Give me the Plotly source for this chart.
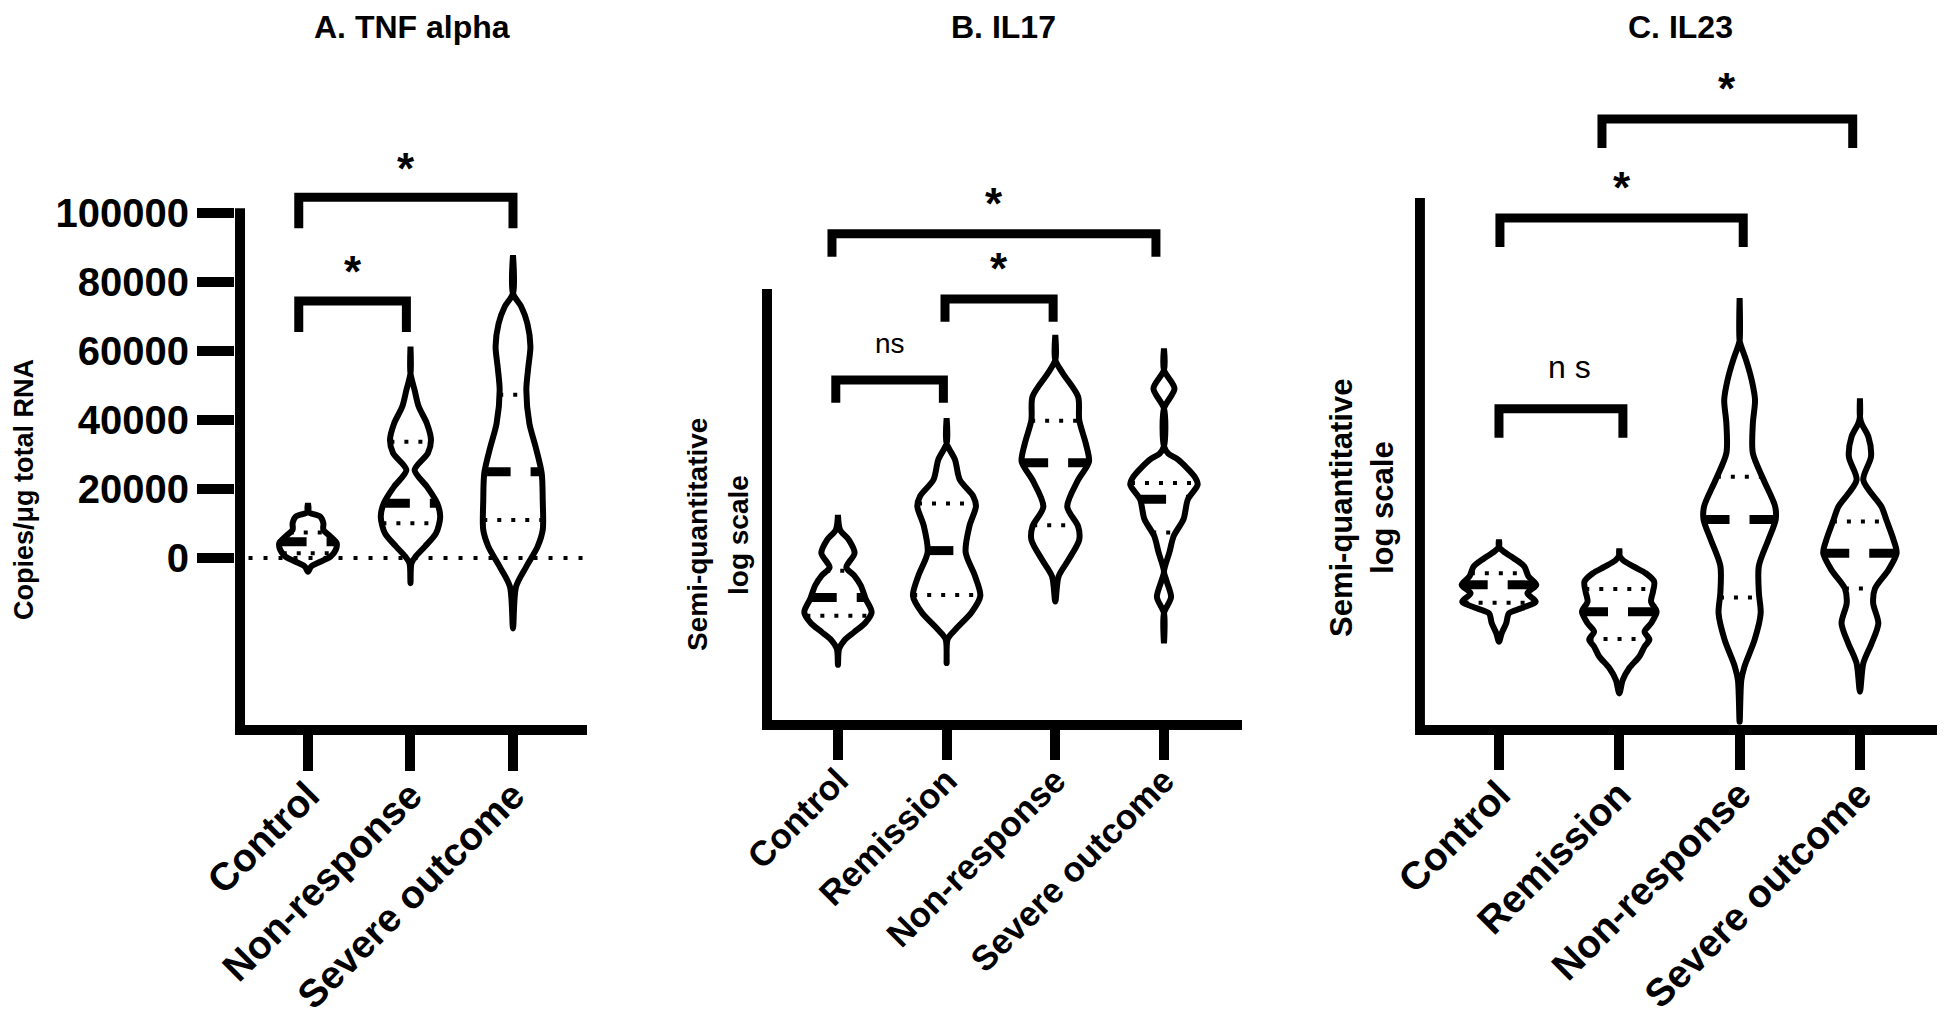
import numpy as np
import plotly.graph_objects as go

# page is 1945x1022; the html body adds an 8px margin, so the figure is drawn
# 8px smaller and every page position below is shifted by that offset
OFF = 8
W, H = 1945 - OFF, 1022 - OFF
FONT = "Liberation Sans, Arial, Helvetica, sans-serif"

# ---------------- Panel A: TNF alpha (copies/ug total RNA) ----------------
a_groups = ["Control", "Non-response", "Severe outcome"]
# violin outlines: value levels and half-widths (in category units)
a_ctrl_y = [-4000, -2500, -1100, 400, 2300, 4300, 6200, 8200, 10100, 12000, 13400, 15900]
a_ctrl_w = [0.0, 0.03, 0.12, 0.22, 0.27, 0.28, 0.22, 0.15, 0.15, 0.12, 0.0, 0.0]
a_nonr_y = [-7300, -1500, 400, 3300, 7200, 12000, 15900, 20700, 25500, 30400, 34200, 39000, 43900, 48700, 53500, 61300]
a_nonr_w = [0.0, 0.01, 0.05, 0.14, 0.25, 0.29, 0.26, 0.16, 0.04, 0.17, 0.20, 0.16, 0.08, 0.04, 0.0, 0.0]
a_sev_y = [-20400, -8300, -2500, 3300, 8100, 16800, 24600, 32300, 39000, 48700, 55500, 61300, 68000, 72900, 76700, 87800]
a_sev_w = [0.0, 0.03, 0.13, 0.24, 0.29, 0.29, 0.28, 0.22, 0.16, 0.13, 0.15, 0.17, 0.14, 0.08, 0.0, 0.0]
a_median = [4700, 15900, 25000]
a_q1 = [1400, 10100, 11000]
a_q3 = [7400, 33700, 47300]
a_tickvals = [0, 20000, 40000, 60000, 80000, 100000]
a_ticktext = ["0", "20000", "40000", "60000", "80000", "100000"]

# ---------------- Panel B: IL17 (semi-quantitative, log scale) ----------------
bc_groups = ["Control", "Remission", "Non-response", "Severe outcome"]
b_ctrl_y = [12.8, 16.5, 18.5, 20.4, 22.5, 25.0, 28.1, 31.2, 33.5, 35.4, 38.7, 41.8, 44.1, 47.6]
b_ctrl_w = [0.0, 0.01, 0.06, 0.15, 0.25, 0.31, 0.255, 0.21, 0.15, 0.077, 0.153, 0.10, 0.02, 0.0]
b_rem_y = [13.2, 18.8, 21.1, 25.0, 28.8, 33.5, 38.9, 45.0, 49.6, 51.9, 55.8, 60.4, 64.2, 70.0]
b_rem_w = [0.0, 0.01, 0.085, 0.23, 0.31, 0.26, 0.175, 0.21, 0.27, 0.245, 0.12, 0.077, 0.0, 0.0]
b_nonr_y = [27.5, 33.3, 37.1, 41.8, 44.9, 49.5, 55.7, 59.9, 64.2, 69.6, 75.0, 80.4, 83.5, 89.3]
b_nonr_w = [0.0, 0.03, 0.12, 0.22, 0.21, 0.11, 0.21, 0.31, 0.28, 0.22, 0.21, 0.07, 0.0, 0.0]
b_sev_y = [17.8, 24.8, 28.5, 32.5, 34.4, 38.9, 42.7, 46.6, 51.2, 54.6, 56.5, 60.4, 61.8, 63.5, 72.3, 76.9, 81.2, 86.2]
b_sev_w = [0.0, 0.0, 0.065, 0.02, 0.0, 0.05, 0.09, 0.18, 0.22, 0.31, 0.28, 0.13, 0.04, 0.0, 0.0, 0.097, 0.0, 0.0]
b_median = [28.4, 39.3, 59.7, 51.2]
b_q1 = [24.2, 29.0, 45.2, 43.5]
b_q3 = [34.6, 50.2, 69.4, 55.0]

# ---------------- Panel C: IL23 (semi-quantitative, log scale) ----------------
c_ctrl_y = [15.8, 17.4, 19.3, 21.2, 22.2, 23.4, 25.0, 26.6, 28.2, 30.1, 31.6, 32.9, 33.8, 35.2]
c_ctrl_w = [0.0, 0.022, 0.06, 0.083, 0.19, 0.305, 0.236, 0.31, 0.245, 0.21, 0.125, 0.04, 0.0, 0.0]
c_rem_y = [6.0, 8.5, 10.8, 13.0, 14.9, 16.2, 17.7, 19.3, 21.5, 23.4, 25.3, 27.2, 28.8, 30.0, 31.3, 32.3, 33.5]
c_rem_w = [0.0, 0.028, 0.083, 0.167, 0.21, 0.25, 0.21, 0.264, 0.31, 0.264, 0.28, 0.29, 0.22, 0.125, 0.03, 0.0, 0.0]
c_nonr_y = [0.6, 8.5, 11.1, 16.2, 21.2, 25.1, 30.2, 35.2, 39.0, 41.5, 46.5, 51.6, 57.2, 61.7, 65.5, 69.3, 71.8, 73.0, 81.0]
c_nonr_w = [0.0, 0.014, 0.04, 0.125, 0.175, 0.16, 0.16, 0.24, 0.30, 0.295, 0.20, 0.11, 0.11, 0.128, 0.10, 0.053, 0.014, 0.0, 0.0]
c_sev_y = [6.3, 11.7, 15.5, 19.3, 23.1, 25.9, 29.4, 32.6, 35.1, 38.9, 41.4, 46.5, 50.9, 54.7, 57.2, 58.5, 62.0]
c_sev_w = [0.0, 0.028, 0.097, 0.153, 0.11, 0.125, 0.236, 0.305, 0.28, 0.22, 0.18, 0.028, 0.092, 0.07, 0.014, 0.0, 0.0]
c_median = [26.6, 21.5, 39.0, 32.6]
c_q1 = [23.2, 16.3, 24.2, 25.9]
c_q3 = [28.8, 25.8, 47.1, 38.6]

# significance comparisons: (group i, group j, bracket level, label)
a_pairs = [(0, 1, 74500, "*"), (0, 2, 104600, "*")]
b_pairs = [(0, 1, 78.9, "ns"), (1, 2, 97.7, "*"), (0, 3, 112.8, "*")]
c_pairs = [(0, 1, 60.0, "n s"), (0, 2, 96.2, "*"), (1, 3, 115.0, "*")]


def px_x(p):
    return (p - OFF) / W


def px_y(p):
    return 1 - (p - OFF) / H


fig = go.Figure()


def add_violin(pos, ys, ws, med, q1, q3, xa, ya):
    ys = np.asarray(ys, dtype=float)
    ws = np.asarray(ws, dtype=float)
    xs = np.concatenate([pos + ws, (pos - ws)[::-1]])
    yy = np.concatenate([ys, ys[::-1]])
    fig.add_trace(go.Scatter(x=xs, y=yy, mode="lines", xaxis=xa, yaxis=ya,
                             line=dict(color="black", width=6, shape="spline", smoothing=0.8),
                             hoverinfo="skip", showlegend=False))
    for val, width, dash in [(q1, 4, "4px,10px"), (q3, 4, "4px,10px"), (med, 9, "26px,20px")]:
        hw = np.interp(val, ys, ws)
        fig.add_trace(go.Scatter(x=[pos - hw, pos + hw], y=[val, val], mode="lines",
                                 xaxis=xa, yaxis=ya, hoverinfo="skip", showlegend=False,
                                 line=dict(color="black", width=width, dash=dash)))


def add_brackets(pairs, drop, xa, ya, offsets, fsize):
    for (i, j, lvl, lab), (dl, dr, shift, xs) in zip(pairs, offsets):
        x0, x1 = i + dl, j + dr
        fig.add_trace(go.Scatter(x=[x0, x0, x1, x1], y=[lvl - drop, lvl, lvl, lvl - drop],
                                 mode="lines", xaxis=xa, yaxis=ya, hoverinfo="skip",
                                 showlegend=False, line=dict(color="black", width=9)))
        star = lab == "*"
        fig.add_annotation(x=(x0 + x1) / 2, y=lvl, xref=xa, yref=ya, text=lab,
                           showarrow=False, yanchor="middle", yshift=shift, xshift=xs,
                           font=dict(family=FONT, size=44 if star else fsize, color="black",
                                     weight="bold" if star else "normal"))


# ---- panel A ----
for k, (ys, ws) in enumerate([(a_ctrl_y, a_ctrl_w), (a_nonr_y, a_nonr_w), (a_sev_y, a_sev_w)]):
    add_violin(k, ys, ws, a_median[k], a_q1[k], a_q3[k], "x", "y")
# dotted zero line
fig.add_trace(go.Scatter(x=[-0.58, 2.72], y=[0, 0], mode="lines", xaxis="x", yaxis="y",
                         hoverinfo="skip", showlegend=False,
                         line=dict(color="black", width=4, dash="4px,11px")))
add_brackets(a_pairs, 9000, "x", "y", [(-0.09, -0.04, 29, 0), (-0.09, 0.0, 29, 0)], 28)

# ---- panel B ----
for k, (ys, ws) in enumerate([(b_ctrl_y, b_ctrl_w), (b_rem_y, b_rem_w),
                              (b_nonr_y, b_nonr_w), (b_sev_y, b_sev_w)]):
    add_violin(k, ys, ws, b_median[k], b_q1[k], b_q3[k], "x2", "y2")
add_brackets(b_pairs, 5.3, "x2", "y2",
             [(-0.02, -0.03, 36, 0), (-0.015, -0.02, 30, 0), (-0.055, -0.074, 30, 0)], 28)

# ---- panel C ----
for k, (ys, ws) in enumerate([(c_ctrl_y, c_ctrl_w), (c_rem_y, c_rem_w),
                              (c_nonr_y, c_nonr_w), (c_sev_y, c_sev_w)]):
    add_violin(k, ys, ws, c_median[k], c_q1[k], c_q3[k], "x3", "y3")
add_brackets(c_pairs, 5.5, "x3", "y3",
             [(0.0, 0.03, 42, 9), (0.008, 0.03, 31, 0), (-0.144, -0.06, 31, 0)], 32)

# y axis lines (drawn as traces so they stop at the top of the scale)
for xa, ya, xpos, y0, y1 in [("x", "y", -0.663, -48406, 101400),
                             ("x2", "y2", -0.653, 0, 100),
                             ("x3", "y3", -0.657, 0, 100)]:
    fig.add_trace(go.Scatter(x=[xpos, xpos], y=[y0, y1], mode="lines", xaxis=xa, yaxis=ya,
                             hoverinfo="skip", showlegend=False,
                             line=dict(color="black", width=10)))

xcommon = dict(showline=True, linewidth=10, linecolor="black", ticks="outside",
               tickwidth=10, tickcolor="black", tickangle=-45, showgrid=False,
               zeroline=False, fixedrange=True, automargin=False, ticklabelstandoff=-14)
ycommon = dict(showline=False, showgrid=False, zeroline=False, fixedrange=True,
               automargin=False)

fig.update_layout(
    width=W, height=H, margin=dict(l=0, r=0, t=0, b=0, autoexpand=False),
    paper_bgcolor="white", plot_bgcolor="white", showlegend=False,
    xaxis=dict(xcommon, domain=[px_x(235), px_x(587)], range=[-0.712, 2.722], anchor="y",
               tickvals=[0, 1, 2], ticktext=a_groups, ticklen=36,
               tickfont=dict(family=FONT, size=39, color="black", weight="bold")),
    yaxis=dict(ycommon, domain=[px_y(725), px_y(120)], range=[-48406, 126957], anchor="x",
               tickvals=a_tickvals, ticktext=a_ticktext, ticks="outside", ticklen=37,
               tickwidth=10, tickcolor="black",
               tickfont=dict(family=FONT, size=40, color="black", weight="bold")),
    xaxis2=dict(xcommon, domain=[px_x(762), px_x(1242)], range=[-0.699, 3.718], anchor="y2",
                tickvals=[0, 1, 2, 3], ticktext=bc_groups, ticklen=30,
                tickfont=dict(family=FONT, size=35, color="black", weight="bold")),
    yaxis2=dict(ycommon, domain=[px_y(720), px_y(120)], range=[0, 139.2], anchor="x2",
                showticklabels=False, ticks=""),
    xaxis3=dict(xcommon, domain=[px_x(1415), 1.0], range=[-0.698, 3.707], anchor="y3",
                tickvals=[0, 1, 2, 3], ticktext=bc_groups, ticklen=35,
                tickfont=dict(family=FONT, size=39, color="black", weight="bold")),
    yaxis3=dict(ycommon, domain=[px_y(725), px_y(50)], range=[0, 128.1], anchor="x3",
                showticklabels=False, ticks=""),
)

# titles
for txt, cx in [("A. TNF alpha", 412), ("B. IL17", 1003), ("C. IL23", 1680)]:
    fig.add_annotation(x=px_x(cx), y=1.0, xref="paper", yref="paper", text=txt,
                       showarrow=False, xanchor="center", yanchor="top", borderpad=0,
                       font=dict(family=FONT, size=32, color="black", weight="bold"))

# y axis titles
fig.add_annotation(x=px_x(24), y=px_y(490), xref="paper", yref="paper",
                   text="Copies/μg total RNA", textangle=-90, showarrow=False,
                   xanchor="center", yanchor="middle",
                   font=dict(family=FONT, size=27, color="black", weight="bold"))
for lines, xs, cy, fs in [(("Semi-quantitative", "log scale"), (697, 738), 535, 28),
                          (("Semi-quantitative", "log scale"), (1341, 1382), 508, 31)]:
    for line, lx in zip(lines, xs):
        fig.add_annotation(x=px_x(lx), y=px_y(cy), xref="paper", yref="paper",
                           text=line, textangle=-90, showarrow=False,
                           xanchor="center", yanchor="middle",
                           font=dict(family=FONT, size=fs, color="black", weight="bold"))

fig.write_html("out.html")
